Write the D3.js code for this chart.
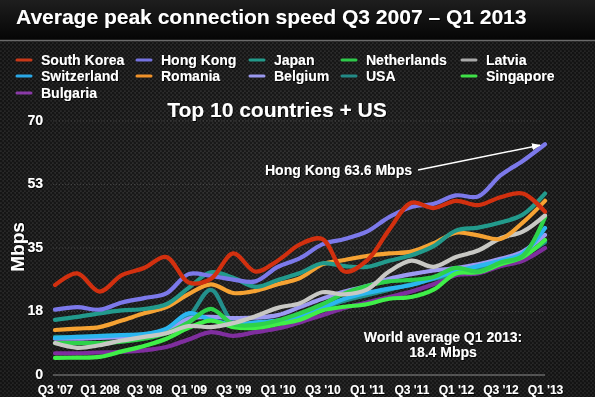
<!DOCTYPE html>
<html>
<head>
<meta charset="utf-8">
<script src="https://cdn.jsdelivr.net/npm/d3@7/dist/d3.min.js"></script>
<style>
  html, body { margin: 0; padding: 0; background: #262626; }
  svg { display: block; }
  text { font-family: "Liberation Sans", Arial, sans-serif; font-weight: bold; fill: #fff; }
</style>
</head>
<body>
<div id="chart"></div>
<script>
var width = 595;
var height = 397;

// quarters Q3 2007 .. Q1 2013
var quarters = ["Q3 07","Q4 07","Q1 08","Q2 08","Q3 08","Q4 08","Q1 09","Q2 09","Q3 09","Q4 09",
  "Q1 10","Q2 10","Q3 10","Q4 10","Q1 11","Q2 11","Q3 11","Q4 11","Q1 12","Q2 12","Q3 12","Q4 12","Q1 13"];
var xLabels = ["Q3 '07","Q1 208","Q3 '08","Q1 '09","Q3 '09","Q1 '10","Q3 '10","Q1 '11","Q3 '11","Q1 '12","Q3 '12","Q1 '13"];
var yTicks = [0, 17.5, 35, 52.5, 70];
var yLabels = ["0", "18", "35", "53", "70"];

// Mbps
var southKorea  = [24.8, 28.0, 23.0, 27.5, 29.5, 32.5, 25.5, 26.5, 33.5, 28.5, 31.5, 36.0, 37.5, 28.5, 31.5, 40.0, 47.5, 46.0, 48.0, 46.8, 49.0, 50.0, 45.0];
var hongKong    = [18.0, 18.7, 18.0, 20.0, 21.2, 22.5, 27.8, 27.3, 26.3, 25.8, 29.8, 32.2, 36.0, 37.5, 39.5, 43.5, 46.3, 47.2, 49.5, 49.2, 55.0, 59.0, 63.6];
var japan       = [15.2, 16.0, 17.0, 17.8, 18.2, 19.5, 24.0, 28.3, 26.8, 24.3, 26.2, 28.1, 30.8, 30.0, 29.8, 31.5, 33.0, 35.5, 39.8, 40.6, 42.0, 44.2, 50.0];
var netherlands = [8.8, 8.8, 8.8, 9.2, 10.0, 11.5, 14.5, 18.2, 14.0, 13.8, 15.0, 17.0, 19.5, 22.5, 24.5, 25.8, 26.2, 27.0, 29.5, 28.5, 31.0, 32.8, 43.5];
var latvia      = [8.8, 7.5, 8.2, 9.5, 10.5, 11.5, 13.5, 13.2, 14.3, 16.2, 18.5, 19.8, 22.8, 22.2, 23.5, 28.5, 31.5, 29.8, 32.5, 34.3, 37.7, 39.5, 44.0];
var switzerland = [10.2, 10.5, 10.7, 11.0, 11.3, 12.8, 17.0, 15.2, 14.0, 14.5, 15.0, 16.0, 18.5, 21.0, 22.6, 23.8, 24.8, 26.7, 28.5, 30.0, 31.5, 33.5, 40.5];
var romania     = [12.4, 12.8, 13.2, 15.0, 17.0, 18.7, 22.3, 25.0, 22.6, 23.2, 25.0, 26.7, 30.5, 31.7, 32.8, 33.5, 34.0, 36.3, 39.2, 38.5, 37.5, 42.0, 48.0];
var belgium     = [10.0, 10.0, 10.2, 10.5, 11.0, 12.0, 15.5, 16.0, 15.7, 15.8, 16.5, 18.7, 21.0, 23.0, 24.5, 26.5, 27.8, 28.8, 29.5, 30.5, 32.0, 34.0, 38.6];
var usa         = [10.5, 10.5, 10.8, 11.0, 11.2, 12.5, 16.0, 23.5, 14.5, 14.2, 14.8, 16.2, 18.5, 20.5, 22.0, 23.5, 25.0, 26.5, 28.0, 29.5, 31.0, 33.0, 36.6];
var singapore   = [4.7, 4.8, 5.0, 6.5, 8.0, 10.0, 13.0, 15.0, 13.2, 13.0, 14.0, 15.2, 17.8, 18.8, 19.5, 21.0, 21.5, 23.5, 28.0, 28.3, 30.5, 32.5, 37.2];
var bulgaria    = [6.0, 6.0, 6.2, 6.4, 6.8, 7.7, 9.8, 11.8, 10.8, 11.8, 12.8, 14.5, 16.5, 18.5, 20.0, 21.5, 23.0, 25.0, 27.5, 28.0, 30.0, 31.5, 35.0];

var legendNames = ["South Korea", "Hong Kong", "Japan", "Netherlands", "Latvia",
  "Switzerland", "Romania", "Belgium", "USA", "Singapore", "Bulgaria"];

var series = [
  { name: "Bulgaria",    values: bulgaria,    color: "#7f2e9e", legend: "#8a3aa8" },
  { name: "USA",         values: usa,         color: "#23908c", legend: "#238a86" },
  { name: "Belgium",     values: belgium,     color: "#9c9af2", legend: "#9a98ee" },
  { name: "Switzerland", values: switzerland, color: "#2bb6f0", legend: "#2aa8e6" },
  { name: "Singapore",   values: singapore,   color: "#3fef48", legend: "#3fe048" },
  { name: "Netherlands", values: netherlands, color: "#2ed24a", legend: "#2ec84a" },
  { name: "Latvia",      values: latvia,      color: "#c8c8c4", legend: "#a8a8a8" },
  { name: "Romania",     values: romania,     color: "#f5a233", legend: "#f0922a" },
  { name: "Japan",       values: japan,       color: "#229a8c", legend: "#229a8a" },
  { name: "Hong Kong",   values: hongKong,    color: "#7c79ea", legend: "#7472e0" },
  { name: "South Korea", values: southKorea,  color: "#d2300f", legend: "#c83818" }
];

var svg = d3.select("#chart").append("svg")
  .attr("width", width)
  .attr("height", height);

var defs = svg.append("defs");

// carbon-like dotted background
var pat = defs.append("pattern")
  .attr("id", "carbon")
  .attr("width", 4).attr("height", 4)
  .attr("patternUnits", "userSpaceOnUse");
pat.append("rect").attr("width", 4).attr("height", 4).attr("fill", "#363636");
pat.append("circle").attr("cx", 1).attr("cy", 1).attr("r", 1.4).attr("fill", "#1c1c1c");
pat.append("circle").attr("cx", 3).attr("cy", 3).attr("r", 1.4).attr("fill", "#1c1c1c");

var grad = defs.append("linearGradient")
  .attr("id", "titleGrad").attr("x1", 0).attr("y1", 0).attr("x2", 0).attr("y2", 1);
grad.append("stop").attr("offset", "0%").attr("stop-color", "#1e1e1e");
grad.append("stop").attr("offset", "100%").attr("stop-color", "#050505");

var vig = defs.append("radialGradient")
  .attr("id", "vignette").attr("cx", "50%").attr("cy", "55%").attr("r", "70%");
vig.append("stop").attr("offset", "0%").attr("stop-color", "#000").attr("stop-opacity", 0);
vig.append("stop").attr("offset", "100%").attr("stop-color", "#000").attr("stop-opacity", 0.35);

defs.append("marker")
  .attr("id", "arrow")
  .attr("viewBox", "0 0 10 10")
  .attr("refX", 9).attr("refY", 5)
  .attr("markerWidth", 6).attr("markerHeight", 6)
  .attr("orient", "auto")
  .append("path")
  .attr("d", "M0,1 L10,5 L0,9 z")
  .attr("fill", "#fff");

var shadow = defs.append("filter").attr("id", "shadow");
shadow.append("feDropShadow").attr("dx", 1).attr("dy", 1).attr("stdDeviation", 0.6)
  .attr("flood-color", "#000").attr("flood-opacity", 0.8);

svg.append("rect").attr("width", width).attr("height", height).attr("fill", "url(#carbon)");
svg.append("rect").attr("width", width).attr("height", height).attr("fill", "url(#vignette)");
svg.append("rect").attr("width", width).attr("height", 40).attr("fill", "url(#titleGrad)");
svg.append("line").attr("x1", 0).attr("x2", width).attr("y1", 40.5).attr("y2", 40.5)
  .attr("stroke", "#6a6a6a").attr("stroke-width", 1.5);

svg.append("text")
  .attr("x", 16).attr("y", 24)
  .style("font-size", "21px")
  .attr("filter", "url(#shadow)")
  .text("Average peak connection speed Q3 2007 \u2013 Q1 2013");

// scales
var xScale = d3.scalePoint().domain(quarters).range([55, 545]);
var yScale = d3.scaleLinear().domain([0, 70]).range([375, 121]);

// grid
svg.append("g").selectAll("line")
  .data(yTicks.slice(1))
  .enter().append("line")
  .attr("x1", 53).attr("x2", 545)
  .attr("y1", function (d) { return yScale(d); })
  .attr("y2", function (d) { return yScale(d); })
  .attr("stroke", "#555")
  .attr("stroke-width", 1)
  .attr("stroke-dasharray", "1,2")
  .attr("opacity", 0.6);

svg.append("line")
  .attr("x1", 53).attr("x2", 545)
  .attr("y1", yScale(0)).attr("y2", yScale(0))
  .attr("stroke", "#8a8a8a").attr("stroke-width", 1);

// y axis
var yAxis = d3.axisLeft(yScale)
  .tickValues(yTicks)
  .tickSize(0)
  .tickPadding(0)
  .tickFormat(function (d, i) { return yLabels[i]; });
var gy = svg.append("g").attr("transform", "translate(43,-1)").call(yAxis);
gy.select(".domain").remove();
gy.selectAll("text")
  .attr("fill", "#fff")
  .attr("filter", "url(#shadow)")
  .style("font-size", "14px")
  .style("font-family", "Liberation Sans, Arial, sans-serif")
  .style("font-weight", "bold");

// x axis
var labelQuarters = quarters.filter(function (d, i) { return i % 2 == 0; });
var xAxis = d3.axisBottom(xScale)
  .tickValues(labelQuarters)
  .tickSize(0)
  .tickPadding(0)
  .tickFormat(function (d, i) { return xLabels[i]; });
var gx = svg.append("g").attr("transform", "translate(0,385)").call(xAxis);
gx.select(".domain").remove();
gx.selectAll("text")
  .attr("fill", "#fff")
  .attr("filter", "url(#shadow)")
  .style("font-size", "12px")
  .style("font-family", "Liberation Sans, Arial, sans-serif")
  .style("font-weight", "bold");

svg.append("text")
  .attr("transform", "translate(24,247) rotate(-90)")
  .attr("text-anchor", "middle")
  .attr("filter", "url(#shadow)")
  .style("font-size", "19px")
  .text("Mbps");

// lines
var line = d3.line()
  .x(function (d, i) { return xScale(quarters[i]); })
  .y(function (d) { return yScale(d); })
  .curve(d3.curveCatmullRom.alpha(0.5));

svg.append("g").selectAll("path")
  .data(series)
  .enter().append("path")
  .attr("d", function (d) { return line(d.values); })
  .attr("fill", "none")
  .attr("stroke", function (d) { return d.color; })
  .attr("stroke-width", 4.2)
  .attr("stroke-linecap", "round")
  .attr("stroke-linejoin", "round");

// legend
var colX = [17, 137, 250, 342, 462];
var rowY = [60, 76, 93];
var legend = svg.append("g").selectAll("g")
  .data(legendNames)
  .enter().append("g")
  .attr("transform", function (d, i) {
    return "translate(" + colX[i % 5] + "," + rowY[Math.floor(i / 5)] + ")";
  });
legend.append("line")
  .attr("x1", 0).attr("x2", 14).attr("y1", 0).attr("y2", 0)
  .attr("stroke", function (d) {
    return series.find(function (s) { return s.name == d; }).legend;
  })
  .attr("stroke-width", 3)
  .attr("stroke-linecap", "round");
legend.append("text")
  .attr("x", 24).attr("y", 5)
  .attr("filter", "url(#shadow)")
  .style("font-size", "14px")
  .text(function (d) { return d; });

// annotations
svg.append("text")
  .attr("x", 277).attr("y", 117)
  .attr("text-anchor", "middle")
  .attr("filter", "url(#shadow)")
  .style("font-size", "21px")
  .text("Top 10 countries + US");

svg.append("text")
  .attr("x", 265).attr("y", 175)
  .attr("filter", "url(#shadow)")
  .style("font-size", "14px")
  .text("Hong Kong 63.6 Mbps");

svg.append("line")
  .attr("x1", 418).attr("y1", 170)
  .attr("x2", xScale("Q1 13") - 5).attr("y2", yScale(63.6) + 1)
  .attr("stroke", "#fff")
  .attr("stroke-width", 1.5)
  .attr("marker-end", "url(#arrow)");

svg.append("text")
  .attr("x", 443).attr("y", 342)
  .attr("text-anchor", "middle")
  .attr("filter", "url(#shadow)")
  .style("font-size", "14px")
  .text("World average Q1 2013:");
svg.append("text")
  .attr("x", 443).attr("y", 357)
  .attr("text-anchor", "middle")
  .attr("filter", "url(#shadow)")
  .style("font-size", "14px")
  .text("18.4 Mbps");
</script>
</body>
</html>
